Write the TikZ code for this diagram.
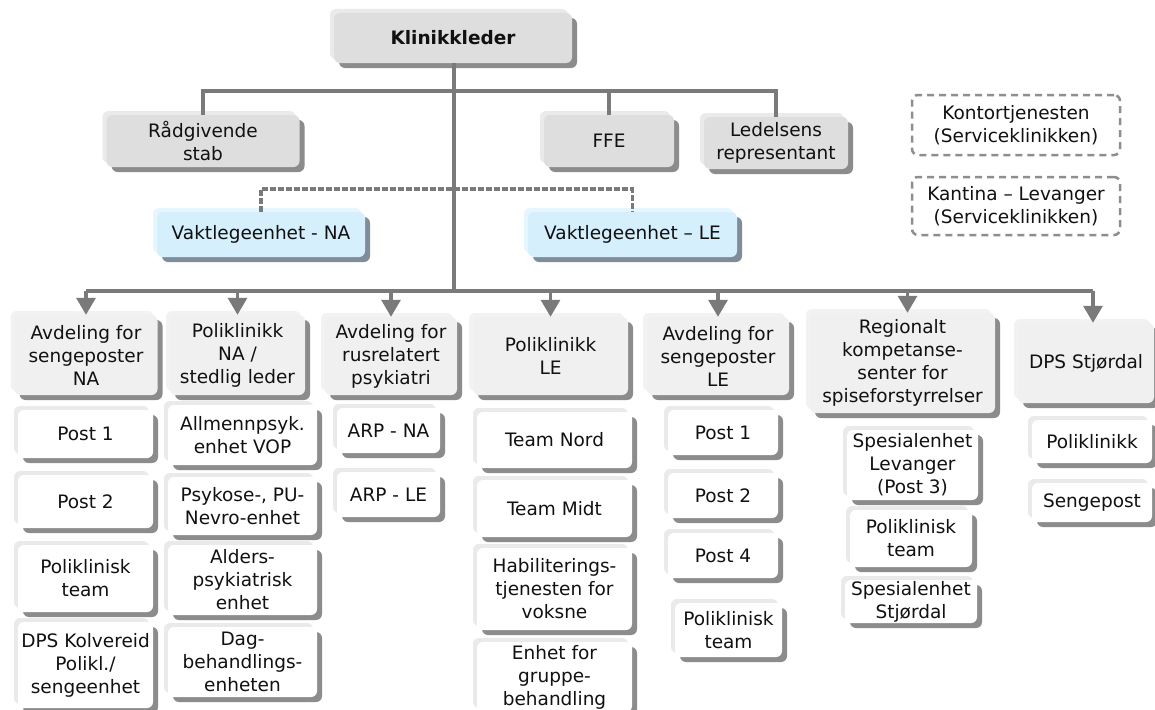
\documentclass[tikz,border=0pt]{standalone}
\usepackage{fontspec}
\setmainfont{DejaVu Sans}
\usetikzlibrary{shadows,arrows.meta,calc}
\definecolor{shd}{HTML}{8C8C8C}
\definecolor{bev}{HTML}{EAEAEA}
\definecolor{gone}{HTML}{DEDEDE}
\definecolor{gtwo}{HTML}{F0F0F0}
\definecolor{vaktfill}{HTML}{D5EFFC}
\definecolor{vaktbev}{HTML}{E6F6FE}
\definecolor{vaktshd}{HTML}{7F8D9B}
\definecolor{linegray}{HTML}{7A7A7A}
\definecolor{txt}{HTML}{111111}
\newcommand\mybox[6]{\node[#1, minimum width=#4pt, minimum height=#5pt] (#2) at (#3) {#6};}
\begin{document}
\begin{tikzpicture}[x=1pt,y=-1pt,
  base/.style={rounded corners=6pt, align=center, inner xsep=2pt, inner ysep=1pt,
    text=txt, font=\fontsize{18.5}{23}\selectfont},
  lvlone/.style={base, fill=gone,
    general shadow={shadow xshift=-4pt, shadow yshift=4pt, fill=bev},
    general shadow={shadow xshift=5pt, shadow yshift=-5pt, fill=shd}},
  lvltwo/.style={base, fill=gtwo,
    general shadow={shadow xshift=-4pt, shadow yshift=4pt, fill=bev!60!white},
    general shadow={shadow xshift=5pt, shadow yshift=-5pt, fill=shd}},
  lvlthree/.style={base, fill=white,
    general shadow={shadow xshift=-4pt, shadow yshift=4pt, fill=bev},
    general shadow={shadow xshift=5pt, shadow yshift=-5pt, fill=shd}},
  vakt/.style={base, fill=vaktfill,
    general shadow={shadow xshift=-4pt, shadow yshift=4pt, fill=vaktbev},
    general shadow={shadow xshift=5pt, shadow yshift=-5pt, fill=vaktshd}},
  dashbox/.style={base, draw=linegray!85, line width=2.5pt, dash pattern=on 7pt off 5pt},
  conn/.style={draw=linegray, line width=3.2pt},
  dconn/.style={draw=linegray, line width=3.5pt, dash pattern=on 6pt off 2pt},
  arr/.style={conn, -{Triangle[width=19pt,length=17pt]}}
]
\useasboundingbox (0,0) rectangle (1155,709);
\fill[white] (0,0) rectangle (1155,709);

% top level
\mybox{lvlone}{kl}{453,38}{238}{50}{\bfseries Klinikkleder}
\mybox{lvlone}{rad}{203,141}{193}{52}{Rådgivende\\stab}
\mybox{lvlone}{ffe}{609,141}{130}{52}{FFE}
\mybox{lvlone}{led}{776,143}{144}{52}{Ledelsens\\representant}
\mybox{dashbox}{kon}{1016,125}{208}{60}{Kontortjenesten\\(Serviceklinikken)}
\mybox{dashbox}{kan}{1016,206}{208}{58}{Kantina – Levanger\\(Serviceklinikken)}
\mybox{vakt}{vna}{261,234.5}{208}{45}{Vaktlegeenhet - NA}
\mybox{vakt}{vle}{632.5,234.5}{209}{45}{Vaktlegeenhet – LE}

% level 2
\mybox{lvltwo}{a1}{86,355}{143}{80}{Avdeling for\\sengeposter\\NA}
\mybox{lvltwo}{a2}{237.5,355}{135}{80}{Poliklinikk\\NA /\\stedlig leder}
\mybox{lvltwo}{a3}{391,356}{132}{78}{Avdeling for\\rusrelatert\\psykiatri}
\mybox{lvltwo}{a4}{550.5,356}{155}{78}{Poliklinikk\\LE}
\mybox{lvltwo}{a5}{718,356}{142}{78}{Avdeling for\\sengeposter\\LE}
\mybox{lvltwo}{a6}{902.5,363}{185}{100}{Regionalt\\kompetanse-\\senter for\\spiseforstyrrelser}
\mybox{lvltwo}{a7}{1086,363}{136}{80}{DPS Stjørdal}

% level 3
\mybox{lvlthree}{b11}{85.5,434}{135}{48}{Post 1}
\mybox{lvlthree}{b12}{85.5,501.5}{135}{53}{Post 2}
\mybox{lvlthree}{b13}{85.5,578.5}{135}{67}{Poliklinisk\\team}
\mybox{lvlthree}{b14}{85.5,665}{135}{86}{DPS Kolvereid\\Polikl./\\sengeenhet}
\mybox{lvlthree}{b21}{242.5,435}{149}{60}{Allmennpsyk.\\enhet VOP}
\mybox{lvlthree}{b22}{242.5,506}{149}{58}{Psykose-, PU-\\Nevro-enhet}
\mybox{lvlthree}{b23}{242.5,580}{149}{70}{Alders-\\psykiatrisk\\enhet}
\mybox{lvlthree}{b24}{242.5,662}{149}{70}{Dag-\\behandlings-\\enheten}
\mybox{lvlthree}{b31}{388.5,430.5}{103}{45}{ARP - NA}
\mybox{lvlthree}{b32}{388.5,494.5}{103}{45}{ARP - LE}
\mybox{lvlthree}{b41}{554.5,440}{155}{56}{Team Nord}
\mybox{lvlthree}{b42}{554.5,508.5}{155}{57}{Team Midt}
\mybox{lvlthree}{b43}{554.5,589}{155}{82}{Habiliterings-\\tjenesten for\\voksne}
\mybox{lvlthree}{b44}{554.5,677}{155}{70}{Enhet for\\gruppe-\\behandling}
\mybox{lvlthree}{b51}{723,432.5}{110}{45}{Post 1}
\mybox{lvlthree}{b52}{723,495.5}{110}{45}{Post 2}
\mybox{lvlthree}{b53}{723,555.5}{110}{45}{Post 4}
\mybox{lvlthree}{b54}{728.5,630}{107}{54}{Poliklinisk\\team}
\mybox{lvlthree}{b61}{912.5,465}{131}{70}{Spesialenhet\\Levanger\\(Post 3)}
\mybox{lvlthree}{b62}{911,538.5}{122}{57}{Poliklinisk\\team}
\mybox{lvlthree}{b63}{911,601.5}{132}{43}{Spesialenhet\\Stjørdal}
\mybox{lvlthree}{b71}{1092,441.5}{120}{43}{Poliklinikk}
\mybox{lvlthree}{b72}{1092,502.5}{120}{39}{Sengepost}

% connectors
\coordinate (bar) at (454,91);
\coordinate (dbar) at (454,189);
\coordinate (bus) at (454,291);
\coordinate (a6t) at ($(a6.north)+(5,0)$);
\coordinate (a7t) at ($(a7.north)+(7,0)$);

\draw[dconn] (vna.north) -- (vna.north |- dbar) -- (vle.north |- dbar) -- (vle.north);
\draw[conn] (kl.south -| bar) -- (bus);
\draw[conn] (rad.north) -- (rad.north |- bar) -- (led.north |- bar) -- (led.north);
\draw[conn] (ffe.north |- bar) -- (ffe.north);
\draw[conn] (a1.north |- bus) -- (a7t |- bus);
\foreach \n in {a1,a2,a3,a4,a5}{
  \draw[arr] (\n.north |- bus) -- (\n.north);
}
\draw[arr] (a6t |- bus) -- (a6t);
\draw[arr] (a7t |- bus) -- (a7t);
\end{tikzpicture}
\end{document}
